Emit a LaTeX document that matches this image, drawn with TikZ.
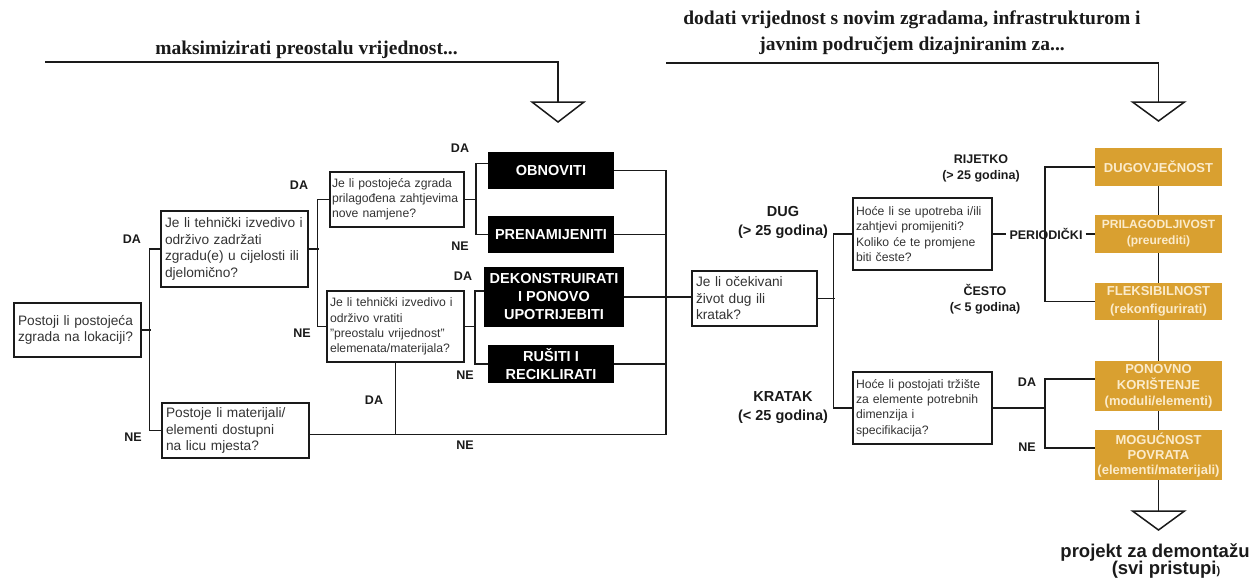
\documentclass[tikz,border=0pt]{standalone}
\usepackage{fontspec}
\setmainfont{Liberation Sans}
\newfontfamily\serifhead{Liberation Serif}
\usetikzlibrary{calc}
\definecolor{fcGold}{HTML}{D9A030}
\definecolor{fcCream}{HTML}{FBEBCB}
\definecolor{fcInk}{HTML}{1A1A1A}
\definecolor{fcText}{HTML}{333333}
\tikzset{
  ask/.style={draw=fcInk, line width=1.5pt, align=left, inner xsep=4pt,
              inner ysep=2pt, text=fcText},
  askbig/.style={ask, font=\fontsize{13.7}{16.5}\selectfont},
  asksmall/.style={ask, inner xsep=3pt, font=\fontsize{12.2}{15.2}\selectfont},
  act/.style={fill=black, text=white, align=center, inner sep=1pt,
              minimum width=126pt, minimum height=37pt,
              font=\bfseries\fontsize{14.5}{18}\selectfont},
  gold/.style={fill=fcGold, text=fcCream, align=center, inner sep=1pt,
              minimum width=127pt, minimum height=38pt,
              font=\bfseries\fontsize{13}{16}\selectfont},
  lbl/.style={font=\bfseries\fontsize{12.5}{16}\selectfont, text=fcInk,
              align=center, inner sep=1pt},
  lblbig/.style={lbl, font=\bfseries\fontsize{14.5}{19}\selectfont},
  ttl/.style={font=\serifhead\bfseries\fontsize{19.5}{26}\selectfont,
              text=fcInk, anchor=base, inner sep=0pt},
  foot/.style={font=\bfseries\fontsize{18.5}{18}\selectfont, text=fcInk,
              anchor=base, inner sep=0pt},
  wire/.style={draw=fcInk, line width=1.5pt},
  funnel/.style={draw=fcInk, line width=1.5pt, fill=white, line join=miter},
}
\begin{document}
\begin{tikzpicture}[x=1pt,y=-1pt]
  \useasboundingbox (0,0) rectangle (1252,578);

  % headings
  \node[ttl] (t1) at (306.5,55) {maksimizirati preostalu vrijednost...};
  \node[ttl] (t2a) at (912,25) {dodati vrijednost s novim zgradama, infrastrukturom i};
  \node[ttl] (t2b) at (912,51) {javnim područjem dizajniranim za...};
  \coordinate (ls) at (45,62);
  \coordinate (tl) at (558,102);
  \coordinate (rs) at (666,63);
  \coordinate (tr) at (1158.5,102);
  \coordinate (tb) at (1158.5,511);
  \draw[wire] (ls) -| (tl);
  \draw[wire] (rs) -| (tr);
  \draw[funnel] (tl) ++(-26,0) -- ++(52,0) -- ++(-26,20) -- cycle;
  \draw[funnel] (tr) ++(-26,0) -- ++(52,0) -- ++(-26,19) -- cycle;

  % questions, left part
  \node[askbig, text width=119pt, minimum height=54pt] (q1) at (77.5,330)
    {Postoji li postojeća\\zgrada na lokaciji?};
  \node[askbig, text width=139pt, minimum height=76pt] (q2) at (234.5,249)
    {Je li tehnički izvedivo i\\održivo zadržati\\zgradu(e) u cijelosti ili\\djelomično?};
  \node[askbig, text width=139pt, minimum height=55pt] (q3) at (235.5,430.5)
    {Postoje li materijali/\\elementi dostupni\\na licu mjesta?};
  \node[asksmall, inner xsep=2pt, text width=130pt, minimum height=55pt] (q4) at (397,199.5)
    {Je li postojeća zgrada\\prilagođena zahtjevima\\nove namjene?};
  \node[asksmall, text width=131pt, minimum height=71pt] (q5) at (395.5,326.5)
    {Je li tehnički izvedivo i\\održivo vratiti\\"preostalu vrijednost"\\elemenata/materijala?};

  % outcomes, left part
  \node[act] (a1) at (551,170.5) {OBNOVITI};
  \node[act] (a2) at (551,234.5) {PRENAMIJENITI};
  \node[act, minimum width=140pt, minimum height=60pt] (a3) at (554,297)
    {DEKONSTRUIRATI\\I PONOVO\\UPOTRIJEBITI};
  \node[act, minimum height=38pt] (a4) at (551,364) {RUŠITI I\\RECIKLIRATI};

  % questions, right part
  \node[askbig, text width=117pt, minimum height=55pt] (q6) at (754.5,298.5)
    {Je li očekivani\\život dug ili\\kratak?};
  \node[asksmall, text width=133pt, minimum height=72pt] (q7) at (922.5,234)
    {Hoće li se upotreba i/ili\\zahtjevi promijeniti?\\Koliko će te promjene\\biti česte?};
  \node[asksmall, text width=133pt, minimum height=72pt] (q8) at (922.5,408)
    {Hoće li postojati tržište\\za elemente potrebnih\\dimenzija i\\specifikacija?};

  % design aims
  \node[gold] (o1) at (1158.5,167) {DUGOVJEČNOST};
  \node[gold, font=\bfseries\fontsize{12}{16}\selectfont] (o2) at (1158.5,234)
    {PRILAGODLJIVOST\\(preurediti)};
  \node[gold, minimum height=37pt, font=\bfseries\fontsize{13}{18}\selectfont] (o3) at (1158.5,301.5)
    {FLEKSIBILNOST\\(rekonfigurirati)};
  \node[gold, minimum height=50pt] (o4) at (1158.5,386)
    {PONOVNO\\KORIŠTENJE\\(moduli/elementi)};
  \node[gold, minimum height=50pt, font=\bfseries\fontsize{13}{15}\selectfont] (o5) at (1158.5,455)
    {MOGUĆNOST\\POVRATA\\(elementi/materijali)};

  % answers
  \node[lbl] (da1) at (132,239) {DA};
  \node[lbl] (ne1) at (133,437) {NE};
  \node[lbl] (da2) at (299,185) {DA};
  \node[lbl] (ne2) at (302,333) {NE};
  \node[lbl] (da3) at (460,148) {DA};
  \node[lbl] (ne3) at (460,246) {NE};
  \node[lbl] (da4) at (463,276) {DA};
  \node[lbl] (ne4) at (465,375) {NE};
  \node[lbl] (da5) at (374,400) {DA};
  \node[lbl] (ne5) at (465,445) {NE};
  \node[lbl] (da6) at (1027,382) {DA};
  \node[lbl] (ne6) at (1027,447) {NE};
  \node[lblbig] (dug) at (783,222) {DUG\\(> 25 godina)};
  \node[lblbig] (kratak) at (783,408) {KRATAK\\(< 25 godina)};
  \node[lbl] (rijetko) at (981,168.5) {RIJETKO\\(> 25 godina)};
  \node[lbl] (cesto) at (985,299.5) {ČESTO\\(< 5 godina)};
  \node[lbl, inner xsep=3pt] (per) at (1046,234) {PERIODIČKI};
  \node[foot] (demont) at (1155,557) {projekt za demontažu};
  \node[foot] (pristup) at (1166,574) {(svi pristupi{\fontsize{11}{11}\selectfont )}};

  % left tree
  \coordinate (jn) at (666,0);
  \coordinate (q3r) at ([yshift=-4pt]q3.east);
  \draw[wire] (q1.east) -- ++(9,0);
  \draw[wire] (q2.west) -- ++(-11,0) |- (q3.west);
  \draw[wire] (q2.east) -- ++(10,0);
  \draw[wire] (q4.west) -- ++(-12,0) |- (q5.west);
  \draw[wire] (q4.east) -- ++(12,0);
  \draw[wire] ([yshift=7pt]a1.west) -- ++(-12,0) |- (a2.west);
  \draw[wire] (q5.east) -- ++(11,0);
  \draw[wire] ([yshift=6pt]a3.west) -- ++(-9,0) |- (a4.west);
  \draw[wire] (a1.east) -- (a1.east -| jn) -- (jn |- q3r) -- (q3r);
  \draw[wire] (a2.east) -- (a2.east -| jn);
  \draw[wire] (a4.east) -- (a4.east -| jn);
  \draw[wire] (q5.south) -- (q5.south |- q3r);
  \draw[wire] (a3.east) -- (a3.east -| q6.west);

  % right tree
  \draw[wire] (q6.east) -- ++(17,0);
  \draw[wire] (q7.west) -- ++(-19,0) |- (q8.west);
  \draw[wire] (q7.east) -- (per.west);
  \draw[wire] (per.east) -- (o2.west);
  \draw[wire] (o1.west) -- ++(-50,0) |- (o3.west);
  \draw[wire] (q8.east) -- ++(53,0);
  \draw[wire] ([yshift=7pt]o4.west) -- ++(-50,0) |- ([yshift=7pt]o5.west);
  \draw[wire] (o1) -- (o2) -- (o3) -- (o4) -- (o5) -- (tb);
  \draw[funnel] (tb) ++(-26,0) -- ++(52,0) -- ++(-26,19) -- cycle;
\end{tikzpicture}
\end{document}
